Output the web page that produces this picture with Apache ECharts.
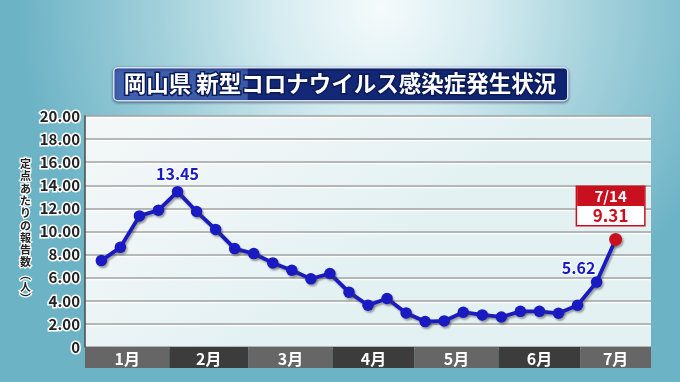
<!DOCTYPE html>
<html>
<head>
<meta charset="utf-8">
<script src="https://cdn.jsdelivr.net/npm/echarts@6/dist/echarts.min.js"></script>
<style>html,body{margin:0;padding:0;}#c{width:680px;height:382px;}</style>
</head>
<body>
<div id="c"></div>
<script>
// ---- data ----
const weekDates = ['2024-01-07','2024-01-14','2024-01-21','2024-01-28',
  '2024-02-04','2024-02-11','2024-02-18','2024-02-25',
  '2024-03-03','2024-03-10','2024-03-17','2024-03-24','2024-03-31',
  '2024-04-07','2024-04-14','2024-04-21','2024-04-28',
  '2024-05-05','2024-05-12','2024-05-19','2024-05-26',
  '2024-06-02','2024-06-09','2024-06-16','2024-06-23','2024-06-30',
  '2024-07-07','2024-07-14'];
const values = [7.48, 8.63, 11.35, 11.85, 13.45, 11.73, 10.18, 8.52,
  8.09, 7.28, 6.65, 5.90, 6.36, 4.75, 3.61, 4.20,
  2.95, 2.20, 2.26, 3.01, 2.78, 2.60, 3.09, 3.09, 2.92, 3.61,
  5.62, 9.31];
const monthLabels = ['1月','2月','3月','4月','5月','6月','7月'];
const monthStarts = ['2024-01-01','2024-02-01','2024-03-01','2024-04-01','2024-05-01','2024-06-01','2024-07-01'];
const axisEnd = '2024-07-27';
const yTicks = [0, 2, 4, 6, 8, 10, 12, 14, 16, 18, 20];
const titleText = '岡山県 新型コロナウイルス感染症発生状況';
const yName = '定点あたりの報告数︵人︶';

// ---- helpers ----
const t = s => { const [y, m, d] = s.split('-').map(Number); return new Date(y, m - 1, d).getTime(); };
const FONT = '"Noto Sans CJK JP", "Noto Sans", sans-serif';
const BLUE = '#1a1ac2';
const RED = '#c8101e';
const peakIdx = 4, labelIdx = 26, lastIdx = values.length - 1;

const lineData = weekDates.map((d, i) => {
  const item = { value: [t(d), values[i]] };
  if (i === peakIdx) {
    item.label = { show: true, position: 'top', distance: 4, formatter: p => p.value[1].toFixed(2),
      color: BLUE, fontSize: 16, fontWeight: 'bold', fontFamily: FONT,
      textBorderColor: '#fff', textBorderWidth: 2 };
  }
  if (i === labelIdx) {
    item.label = { show: true, position: 'top', distance: 3, offset: [-18, 3], formatter: p => p.value[1].toFixed(2),
      color: BLUE, fontSize: 16, fontWeight: 'bold', fontFamily: FONT,
      textBorderColor: '#fff', textBorderWidth: 2 };
  }
  if (i === lastIdx) {
    const [, mm, dd] = d.split('-').map(Number);
    item.symbolSize = 13;
    item.itemStyle = { color: RED };
    item.label = {
      show: true, position: 'top', distance: 8, offset: [-5, 0],
      formatter: p => `{a|${mm}/${dd}}\n{b|${p.value[1].toFixed(2)}}`,
      backgroundColor: '#fff', borderColor: RED, borderWidth: 1.5, padding: 0,
      rich: {
        a: { backgroundColor: RED, color: '#fff', width: 67, height: 19, lineHeight: 19, align: 'center',
             fontSize: 15, fontWeight: 'bold', fontFamily: FONT },
        b: { color: RED, width: 67, height: 19, lineHeight: 19, align: 'center',
             fontSize: 17, fontWeight: 'bold', fontFamily: FONT }
      }
    };
  }
  return item;
});

const monthData = monthLabels.map((l, i) => [t(monthStarts[i]), i < monthLabels.length - 1 ? t(monthStarts[i + 1]) : t(axisEnd), i]);

const chart = echarts.init(document.getElementById('c'), null, { renderer: 'canvas' });
chart.setOption({
  animation: false,
  backgroundColor: {
    type: 'radial', x: 0.56, y: 0.02, r: 0.95,
    colorStops: [
      { offset: 0, color: '#f6fbfc' },
      { offset: 0.3, color: '#d4ebf0' },
      { offset: 0.6, color: '#a3d1db' },
      { offset: 1, color: '#6cb3c6' }
    ]
  },
  graphic: [
    {
      type: 'rect', left: 113, top: 67, z: 10,
      shape: { width: 454, height: 33, r: 4 },
      style: {
        fill: {
          type: 'linear', x: 0, y: 0, x2: 1, y2: 0,
          colorStops: [
            { offset: 0, color: '#4061ad' },
            { offset: 0.295, color: '#3a5aa8' },
            { offset: 0.296, color: '#142a78' },
            { offset: 1, color: '#0f2470' }
          ]
        },
        stroke: '#d6def2', lineWidth: 1.5,
        shadowColor: 'rgba(0,0,40,0.5)', shadowBlur: 3, shadowOffsetY: 1
      }
    },
    {
      type: 'text', left: 'center', top: 71, z: 11,
      style: {
        text: titleText, fill: '#fff', font: 'bold 22.5px ' + FONT,
        stroke: '#0b1a55', lineWidth: 3
      }
    }
  ],
  grid: [
    { left: 85, right: 29, top: 116, bottom: 35, show: true, borderWidth: 0,
      backgroundColor: {
        type: 'linear', x: 0, y: 0, x2: 0.3, y2: 1,
        colorStops: [{ offset: 0, color: '#f3f7f8' }, { offset: 0.5, color: '#eef5f6' }, { offset: 1, color: '#e3f1f3' }]
      } },
    { left: 85, right: 29, top: 347, height: 21 }
  ],
  xAxis: [
    { type: 'time', gridIndex: 0, min: t(monthStarts[0]), max: t(axisEnd),
      axisLine: { show: false }, axisTick: { show: false }, axisLabel: { show: false }, splitLine: { show: false } },
    { type: 'time', gridIndex: 1, min: t(monthStarts[0]), max: t(axisEnd), show: false }
  ],
  yAxis: [
    { type: 'value', gridIndex: 0, min: yTicks[0], max: yTicks[yTicks.length - 1], interval: 2,
      name: yName.split('').join('\n'), nameLocation: 'middle', nameGap: 52, nameRotate: 0,
      nameTextStyle: { align: 'center', verticalAlign: 'middle', fontSize: 11, lineHeight: 12.3, fontWeight: 'bold',
        color: '#222', fontFamily: FONT, textBorderColor: '#fff', textBorderWidth: 2.5 },
      axisLine: { show: true, lineStyle: { color: '#4a4a4a', width: 1.5 } },
      axisTick: { show: false },
      axisLabel: { margin: 5, fontSize: 15, fontWeight: 'bold', color: '#222', fontFamily: FONT,
        textBorderColor: '#fff', textBorderWidth: 3,
        formatter: v => v === 0 ? '0' : v.toFixed(2) },
      splitLine: { show: true, lineStyle: { color: '#a2a2a2', width: 1.5, shadowColor: 'rgba(255,255,255,0.9)', shadowOffsetY: 1.5 } }
    },
    { type: 'value', gridIndex: 1, min: 0, max: 1, show: false }
  ],
  series: [
    {
      type: 'line', xAxisIndex: 0, yAxisIndex: 0, data: lineData,
      symbol: 'circle', symbolSize: 11.5, z: 5,
      lineStyle: { color: BLUE, width: 3.8, shadowColor: 'rgba(60,60,60,0.45)', shadowBlur: 2, shadowOffsetX: 1.5, shadowOffsetY: 2 },
      itemStyle: { color: BLUE, shadowColor: 'rgba(60,60,60,0.45)', shadowBlur: 2, shadowOffsetX: 1.5, shadowOffsetY: 2 }
    },
    {
      type: 'custom', xAxisIndex: 1, yAxisIndex: 1, data: monthData,
      encode: { x: [0, 1] },
      renderItem: (params, api) => {
        const s = api.coord([api.value(0), 0]);
        const e = api.coord([api.value(1), 0]);
        const i = api.value(2);
        const cs = params.coordSys;
        return {
          type: 'group',
          children: [
            { type: 'rect', shape: { x: s[0], y: cs.y, width: e[0] - s[0], height: cs.height },
              style: { fill: i % 2 === 0 ? '#666666' : '#3c3c3c' } },
            { type: 'text', style: { text: monthLabels[i], x: (s[0] + e[0]) / 2, y: cs.y + cs.height / 2 + 1,
              align: 'center', verticalAlign: 'middle', fill: '#fff', font: 'bold 16px ' + FONT } }
          ]
        };
      }
    }
  ]
});
</script>
</body>
</html>
